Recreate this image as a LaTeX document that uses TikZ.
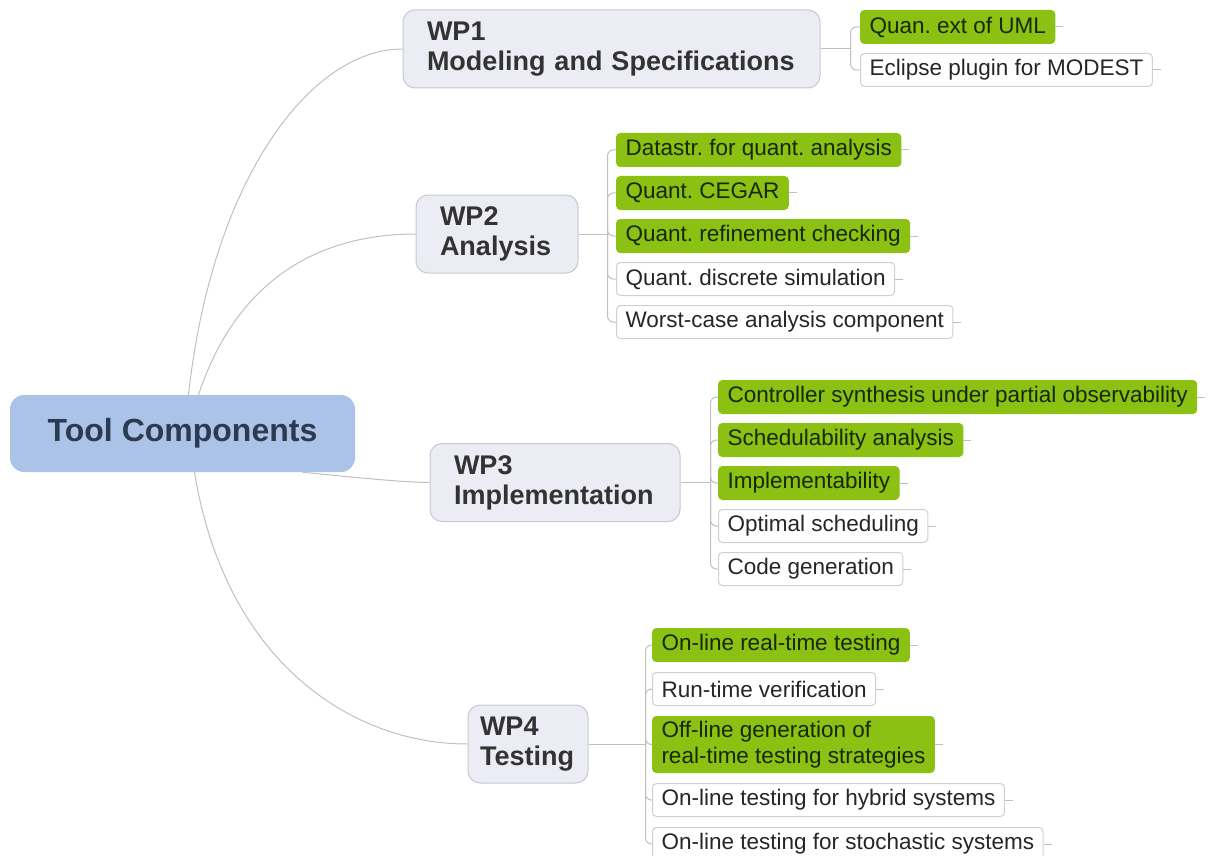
\documentclass[tikz,border=0pt]{standalone}
\usepackage{fontspec}
\setmainfont{Liberation Sans}
\usepackage{tikz}
\usetikzlibrary{positioning}
\frenchspacing

\definecolor{rootblue}{RGB}{170,195,231}
\definecolor{roottext}{RGB}{44,58,82}
\definecolor{wpfill}{RGB}{236,237,244}
\definecolor{wpline}{RGB}{198,200,212}
\definecolor{leafgreen}{RGB}{138,193,18}
\definecolor{greentext}{RGB}{22,40,8}
\definecolor{leafline}{RGB}{208,208,208}
\definecolor{branchgray}{RGB}{192,192,192}

\begin{document}
\begin{tikzpicture}[x=1pt,y=-1pt,
    root node/.style={rectangle,rounded corners=14pt,fill=rootblue,text=roottext,
      font=\fontsize{32}{36}\selectfont\bfseries,minimum width=345pt,minimum height=77pt},
    wp node/.style={rectangle,rounded corners=12pt,fill=wpfill,draw=wpline,line width=1pt,
      text=black!80,font=\fontsize{27}{30}\selectfont\bfseries,align=left,
      inner xsep=24pt,minimum height=78pt},
    leaf node/.style={rectangle,rounded corners=4pt,draw=leafline,fill=white,line width=1pt,
      font=\fontsize{22.5}{26}\selectfont,text=black!85,align=left,
      inner xsep=9pt,inner ysep=3pt,minimum height=33pt},
    done node/.style={leaf node,fill=leafgreen,draw=leafgreen,text=greentext},
    branch/.style={draw=branchgray,line width=1pt},
    sub branch/.style={branch,rounded corners=6pt}]

    \useasboundingbox (0,0) rectangle (1208,856);

    \node[root node] (Root) at (182.5,433.5) {Tool Components};

    \node[wp node,text width=369pt] (WP1) at (611.5,49) {WP1\\Modeling and Specifications};
    \node[wp node,text width=114pt] (WP2) at (497,234) {WP2\\Analysis};
    \node[wp node,text width=202pt] (WP3) at (555,482.5) {WP3\\Implementation};
    \node[wp node,text width=96pt,inner xsep=12pt] (WP4) at (528,744) {WP4\\Testing};

    % WP1
    \node[done node,anchor=north west] (uml) at (860,10) {Quan. ext of UML};
    \node[leaf node,below=9pt of uml.south west,anchor=north west] (modest) {Eclipse plugin for MODEST};

    % WP2
    \node[done node,anchor=north west] (datastr) at (616,133) {Datastr. for quant. analysis};
    \node[done node,below=9pt of datastr.south west,anchor=north west] (cegar) {Quant. CEGAR};
    \node[done node,below=9pt of cegar.south west,anchor=north west] (refine) {Quant. refinement checking};
    \node[leaf node,below=9pt of refine.south west,anchor=north west] (discrete) {Quant. discrete simulation};
    \node[leaf node,below=9pt of discrete.south west,anchor=north west] (worstcase) {Worst-case analysis component};

    % WP3
    \node[done node,anchor=north west] (controller) at (718,380) {Controller synthesis under partial observability};
    \node[done node,below=9pt of controller.south west,anchor=north west] (sched) {Schedulability analysis};
    \node[done node,below=9pt of sched.south west,anchor=north west] (implem) {Implementability};
    \node[leaf node,below=9pt of implem.south west,anchor=north west] (optsched) {Optimal scheduling};
    \node[leaf node,below=9pt of optsched.south west,anchor=north west] (codegen) {Code generation};

    % WP4
    \node[done node,anchor=north west] (onlinert) at (652,628) {On-line real-time testing};
    \node[leaf node,below=10pt of onlinert.south west,anchor=north west] (runtime) {Run-time verification};
    \node[done node,below=10pt of runtime.south west,anchor=north west,minimum height=56pt] (offline) {Off-line generation of\\real-time testing strategies};
    \node[leaf node,below=10pt of offline.south west,anchor=north west] (hybrid) {On-line testing for hybrid systems};
    \node[leaf node,below=10pt of hybrid.south west,anchor=north west] (stochastic) {On-line testing for stochastic systems};

    % root to work packages
    \draw[branch] ([xshift=6pt]Root.north) .. controls (212,180) and (310,49) .. (WP1.west);
    \draw[branch] ([xshift=16pt]Root.north) .. controls (240,270) and (330,234) .. (WP2.west);
    \draw[branch] ([xshift=120pt]Root.south) .. controls (360,478) and (400,482) .. (WP3.west);
    \draw[branch] ([xshift=12pt]Root.south) .. controls (225,660) and (350,744) .. (WP4.west);

    % work packages to components
    \coordinate (j1) at ([xshift=30pt]WP1.east);
    \coordinate (j2) at ([xshift=29pt]WP2.east);
    \coordinate (j3) at ([xshift=30pt]WP3.east);
    \coordinate (j4) at ([xshift=57pt]WP4.east);
    \draw[branch] (WP1.east) -- (j1) (WP2.east) -- (j2) (WP3.east) -- (j3) (WP4.east) -- (j4);
    \foreach \n in {uml,modest} \draw[sub branch] (j1) |- (\n.west);
    \foreach \n in {datastr,cegar,refine,discrete,worstcase} \draw[sub branch] (j2) |- (\n.west);
    \foreach \n in {controller,sched,implem,optsched,codegen} \draw[sub branch] (j3) |- (\n.west);
    \foreach \n in {onlinert,runtime,offline,hybrid,stochastic} \draw[sub branch] (j4) |- (\n.west);

    \foreach \n in {uml,modest,datastr,cegar,refine,discrete,worstcase,controller,sched,implem,
      optsched,codegen,onlinert,runtime,offline,hybrid,stochastic}
      \draw[branch] (\n.east) -- ++(8,0);
\end{tikzpicture}
\end{document}
